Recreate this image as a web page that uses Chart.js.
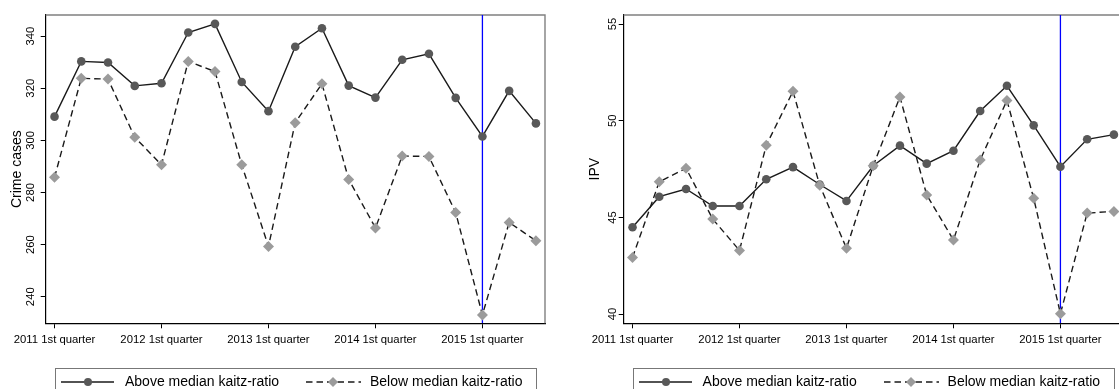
<!DOCTYPE html>
<html>
<head>
<meta charset="utf-8">
<script src="https://cdn.jsdelivr.net/npm/chart.js@4.4.1/dist/chart.umd.min.js"></script>
<style>
  html, body { margin: 0; padding: 0; background: #fff; overflow: hidden; width: 1119px; height: 389px; }
  .panel { position: absolute; top: 0; width: 578px; height: 389px; }
  #leftPanel { left: 0; }
  #rightPanel { left: 577.6px; }
  .legend { position: absolute; left: 55px; top: 368px; width: 480px; height: 34px; border: 1px solid #777;
            font-family: 'Liberation Sans', Arial, sans-serif; font-size: 14px; color: #000; }
  .legend svg { position: absolute; top: 6px; }
  .legend span { position: absolute; top: 4px; line-height: 16px; white-space: nowrap; }
</style>
</head>
<body>
<div class="panel" id="leftPanel">
  <canvas id="crimeChart" width="578" height="389"></canvas>
</div>
<div class="panel" id="rightPanel">
  <canvas id="ipvChart" width="578" height="389"></canvas>
</div>

<script>
// quarters on the x axis
const quarters = [
  '2011 1st quarter', '2011 2nd quarter', '2011 3rd quarter', '2011 4th quarter',
  '2012 1st quarter', '2012 2nd quarter', '2012 3rd quarter', '2012 4th quarter',
  '2013 1st quarter', '2013 2nd quarter', '2013 3rd quarter', '2013 4th quarter',
  '2014 1st quarter', '2014 2nd quarter', '2014 3rd quarter', '2014 4th quarter',
  '2015 1st quarter', '2015 2nd quarter', '2015 3rd quarter'
];
const tickQuarters = ['2011 1st quarter', '2012 1st quarter', '2013 1st quarter', '2014 1st quarter', '2015 1st quarter'];
const policyQuarter = '2015 1st quarter';

const seriesNames = ['Above median kaitz-ratio', 'Below median kaitz-ratio'];

// crime cases panel
const crimeAbove = [309.1, 330.3, 329.9, 320.9, 321.9, 341.4, 344.7, 322.4, 311.2, 335.9, 343.0, 321.0, 316.4, 330.9, 333.2, 316.3, 301.5, 319.0, 306.5];
const crimeBelow = [285.8, 323.8, 323.5, 301.2, 290.6, 330.3, 326.4, 290.6, 259.3, 306.8, 321.7, 285.0, 266.4, 294.0, 293.8, 272.3, 233.0, 268.5, 261.5];
const crimeTicks = [240, 260, 280, 300, 320, 340];

// IPV panel
const ipvAbove = [44.49, 46.07, 46.47, 45.59, 45.59, 46.97, 47.60, 46.70, 45.85, 47.67, 48.71, 47.78, 48.45, 50.50, 51.81, 49.76, 47.62, 49.04, 49.28];
const ipvBelow = [42.93, 46.84, 47.54, 44.91, 43.29, 48.73, 51.52, 46.66, 43.40, 47.67, 51.23, 46.16, 43.83, 47.97, 51.05, 45.99, 40.02, 45.22, 45.31];
const ipvTicks = [40, 45, 50, 55];

const FONT = "'Liberation Sans', Arial, sans-serif";
Chart.defaults.font.family = FONT;
Chart.defaults.color = '#000';

// grey top/right frame of the plot region
const framePlugin = {
  id: 'frame',
  beforeDatasetsDraw(chart) {
    const { ctx, chartArea: a } = chart;
    ctx.save();
    ctx.strokeStyle = '#808080';
    ctx.lineWidth = 1.4;
    ctx.beginPath();
    ctx.moveTo(a.left, a.top);
    ctx.lineTo(a.right, a.top);
    ctx.lineTo(a.right, a.bottom);
    ctx.stroke();
    ctx.restore();
  }
};

function toPoints(values) {
  return values.map((v, i) => ({ x: i, y: v }));
}

function makePanel(canvasId, yTitle, above, below, yMin, yMax, yTicks) {
  const px = quarters.indexOf(policyQuarter);
  return new Chart(document.getElementById(canvasId), {
    type: 'line',
    data: {
      datasets: [{
        label: seriesNames[0],
        data: toPoints(above),
        borderColor: '#1a1a1a',
        borderWidth: 1.4,
        pointStyle: 'circle',
        pointRadius: 4.3,
        pointBorderWidth: 0,
        pointBackgroundColor: '#585858',
        tension: 0,
        order: 2
      }, {
        label: seriesNames[1],
        data: toPoints(below),
        borderColor: '#1a1a1a',
        borderWidth: 1.4,
        borderDash: [6.5, 4],
        pointStyle: 'rectRot',
        pointRadius: 5.5,
        pointBorderWidth: 0,
        pointBackgroundColor: '#9b9b9b',
        tension: 0,
        order: 1
      }, {
        label: 'policy',
        data: [{ x: px, y: yMax }, { x: px, y: yMin }],
        borderColor: '#0000ff',
        borderWidth: 1.3,
        pointRadius: 0,
        order: 3
      }]
    },
    options: {
      responsive: false,
      animation: false,
      devicePixelRatio: 1,
      events: [],
      layout: { padding: { top: 15, right: 33, left: 0, bottom: 0 } },
      plugins: { legend: { display: false }, tooltip: { enabled: false } },
      scales: {
        x: {
          type: 'linear',
          min: -0.33,
          max: 18.34,
          afterBuildTicks: s => { s.ticks = tickQuarters.map(q => ({ value: quarters.indexOf(q) })); },
          afterFit: s => { s.height = 65.7; },
          ticks: {
            callback: v => quarters[v],
            autoSkip: false,
            maxRotation: 0,
            padding: 5,
            font: { size: 11.3 },
            color: '#000'
          },
          grid: { drawOnChartArea: false, tickLength: 5, color: '#000', lineWidth: 1 },
          border: { color: '#000', width: 1.2 }
        },
        y: {
          min: yMin,
          max: yMax,
          afterBuildTicks: s => { s.ticks = yTicks.map(v => ({ value: v })); },
          afterFit: s => { s.width = 45.7; },
          ticks: {
            minRotation: 90,
            maxRotation: 90,
            crossAlign: 'center',
            padding: 0,
            autoSkip: false,
            font: { size: 11.3 },
            color: '#000'
          },
          grid: { drawOnChartArea: false, tickLength: 5, color: '#000', lineWidth: 1 },
          border: { color: '#000', width: 1.2 },
          title: {
            display: true,
            text: yTitle,
            font: { size: 14 },
            color: '#000',
            padding: { top: 9, bottom: 0 }
          }
        }
      }
    },
    plugins: [framePlugin]
  });
}

makePanel('crimeChart', 'Crime cases', crimeAbove, crimeBelow, 229.8, 348.1, crimeTicks);
makePanel('ipvChart', 'IPV', ipvAbove, ipvBelow, 39.52, 55.47, ipvTicks);

// legend box below each panel
function addLegend(panelId) {
  const box = document.createElement('div');
  box.className = 'legend';
  box.innerHTML =
    '<svg style="left:5px" width="54" height="14">' +
      '<line x1="0" y1="7" x2="53" y2="7" stroke="#1a1a1a" stroke-width="1.3"/>' +
      '<circle cx="27" cy="7" r="4" fill="#585858"/></svg>' +
    '<span style="left:69px">' + seriesNames[0] + '</span>' +
    '<svg style="left:250px" width="56" height="14">' +
      '<line x1="0" y1="7" x2="55" y2="7" stroke="#1a1a1a" stroke-width="1.3" stroke-dasharray="6.5 4"/>' +
      '<polygon points="27,2 32,7 27,12 22,7" fill="#9b9b9b"/></svg>' +
    '<span style="left:314px">' + seriesNames[1] + '</span>';
  document.getElementById(panelId).appendChild(box);
}
addLegend('leftPanel');
addLegend('rightPanel');
</script>
</body>
</html>
